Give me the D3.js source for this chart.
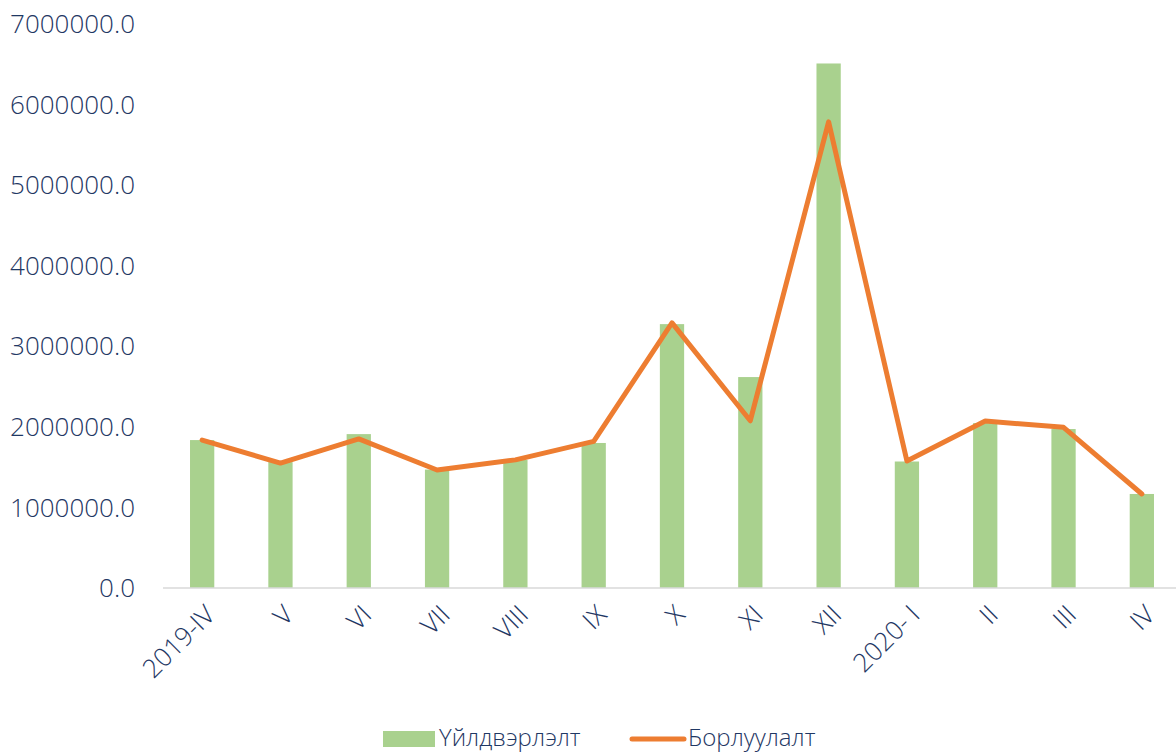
<!DOCTYPE html>
<html>
<head>
<meta charset="utf-8">
<script src="https://cdn.jsdelivr.net/npm/d3@7"></script>
<style>
  body { margin: 0; background: #fff; }
  svg { display: block; }
  text { font-family: "Open Sans", "Noto Sans", sans-serif; fill: #1F3864; font-weight: 300; }
</style>
</head>
<body>
<svg id="chart" width="1176" height="754"></svg>
<script>
var categories = ["2019-IV", "V", "VI", "VII", "VIII", "IX", "X", "XI", "XII", "2020- I", "II", "III", "IV"]
var production = [1836000, 1563000, 1910000, 1470000, 1590000, 1800000, 3275000, 2618000, 6510000, 1570000, 2047000, 1973000, 1167000]
var sales = [1836000, 1550000, 1850000, 1464000, 1590000, 1820000, 3290000, 2076000, 5786000, 1576000, 2072000, 1994000, 1167000]
var yTicks = [0, 1000000, 2000000, 3000000, 4000000, 5000000, 6000000, 7000000]
var seriesNames = ["Үйлдвэрлэлт", "Борлуулалт"]

var svg = d3.select('#chart')
var plotLeft = 163, plotRight = 1181, plotTop = 24, plotBottom = 588

var x = d3.scaleBand()
    .domain(categories)
    .range([plotLeft, plotRight])
    .paddingInner(0.69)
    .paddingOuter(0.345)
var y = d3.scaleLinear()
    .domain([0, 7000000])
    .range([plotBottom, plotTop])

// y labels (no gridlines in the source)
svg.append('g')
    .selectAll('text')
    .data(yTicks)
    .enter()
    .append('text')
    .attr('x', 135)
    .attr('y', d => y(d))
    .attr('dy', '0.35em')
    .attr('text-anchor', 'end')
    .style('font-size', '26px')
    .style('font-weight', 350)
    .text(d => d.toFixed(1))

// bars
svg.append('g')
    .selectAll('rect')
    .data(production)
    .enter()
    .append('rect')
    .attr('x', (d, i) => x(categories[i]))
    .attr('width', x.bandwidth())
    .attr('y', d => y(d))
    .attr('height', d => y(0) - y(d))
    .attr('fill', '#A9D18E')

// x axis line
svg.append('line')
    .attr('x1', plotLeft).attr('x2', plotRight)
    .attr('y1', y(0)).attr('y2', y(0))
    .attr('stroke', '#D9D9D9')
    .attr('stroke-width', 1.5)

// sales line
var line = d3.line()
    .x((d, i) => x(categories[i]) + x.bandwidth() / 2)
    .y(d => y(d))
svg.append('path')
    .datum(sales)
    .attr('d', line)
    .attr('fill', 'none')
    .attr('stroke', '#ED7D31')
    .attr('stroke-width', 5)
    .attr('stroke-linejoin', 'round')
    .attr('stroke-linecap', 'round')

// x labels rotated
svg.append('g')
    .selectAll('text')
    .data(categories)
    .enter()
    .append('text')
    .attr('transform', d => 'translate(' + (x(d) + x.bandwidth() / 2 + 8) + ',' + (plotBottom + 22) + ') rotate(-45)')
    .attr('text-anchor', 'end')
    .attr('dy', '0.35em')
    .style('font-size', '26px')
    .text(d => d)

// legend
var lg = svg.append('g')
lg.append('rect')
    .attr('x', 383).attr('y', 731)
    .attr('width', 52).attr('height', 16)
    .attr('fill', '#A9D18E')
lg.append('text')
    .attr('x', 439).attr('y', 746)
    .style('font-size', '24px')
    .text(seriesNames[0])
lg.append('line')
    .attr('x1', 632).attr('x2', 684)
    .attr('y1', 739).attr('y2', 739)
    .attr('stroke', '#ED7D31')
    .attr('stroke-width', 5)
    .attr('stroke-linecap', 'round')
lg.append('text')
    .attr('x', 688).attr('y', 746)
    .style('font-size', '24px')
    .text(seriesNames[1])
</script>
</body>
</html>
